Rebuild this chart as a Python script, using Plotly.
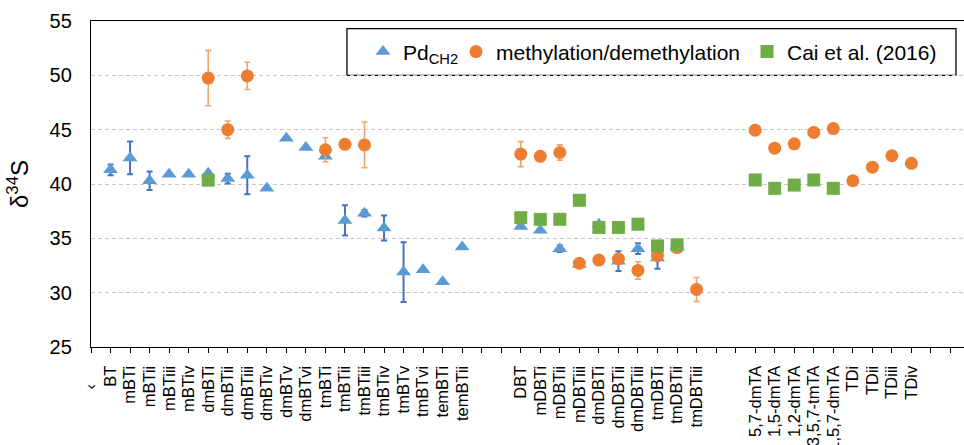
import plotly.graph_objects as go

NB = "\u00a0"

# Category axis (empty strings leave gaps between compound families)
categories = (
    ["\u2039" + NB * 4,
     "BT", "mBTi", "mBTii", "mBTiii", "mBTiv", "dmBTi", "dmBTii", "dmBTiii",
     "dmBTiv", "dmBTv", "dmBTvi", "tmBTi", "tmBTii", "tmBTiii", "tmBTiv",
     "tmBTv", "tmBTvi", "temBTi", "temBTii",
     "", "",
     "DBT", "mDBTi", "mDBTii", "mDBTiii", "dmDBTi", "dmDBTii", "dmDBTiii",
     "tmDBTi", "tmDBTii", "tmDBTiii",
     "", "",
     "5,7-dmTA", "1,5-dmTA", "1,2-dmTA", "3,5,7-tmTA", "1,5,7-dmTA",
     "TDi", "TDii", "TDiii", "TDiv",
     "", ""]
)

# Pd_CH2 series
pd_names = ["BT", "mBTi", "mBTii", "mBTiii", "mBTiv", "dmBTi", "dmBTii", "dmBTiii",
            "dmBTiv", "dmBTv", "dmBTvi", "tmBTi", "tmBTii", "tmBTiii", "tmBTiv",
            "tmBTv", "tmBTvi", "temBTi", "temBTii",
            "DBT", "mDBTi", "mDBTii", "mDBTiii", "dmDBTi", "dmDBTii", "dmDBTiii",
            "tmDBTi", "tmDBTii"]
pd_values = [41.3, 42.4, 40.3, 40.9, 40.9, 41.0, 40.5, 40.8,
             39.6, 44.2, 43.35, 42.55, 36.65, 37.3, 35.95,
             31.9, 32.1, 31.0, 34.2,
             36.1, 35.75, 34.05, 32.6, 36.3, 32.9, 34.05,
             33.2, 34.3]
pd_err = [0.5, 1.5, 0.85, 0, 0, 0, 0.45, 1.75,
          0, 0, 0, 0, 1.4, 0.3, 1.15,
          2.75, 0, 0, 0,
          0, 0, 0.3, 0, 0, 0.9, 0.5,
          1.0, 0]

# methylation/demethylation series
md_names = ["dmBTi", "dmBTii", "dmBTiii", "tmBTi", "tmBTii", "tmBTiii",
            "DBT", "mDBTi", "mDBTii", "mDBTiii", "dmDBTi", "dmDBTii", "dmDBTiii",
            "tmDBTi", "tmDBTii", "tmDBTiii",
            "5,7-dmTA", "1,5-dmTA", "1,2-dmTA", "3,5,7-tmTA", "1,5,7-dmTA",
            "TDi", "TDii", "TDiii", "TDiv"]
md_values = [49.75, 45.0, 49.95, 43.15, 43.65, 43.6,
             42.75, 42.55, 42.9, 32.7, 33.0, 33.1, 32.05,
             33.4, 34.15, 30.3,
             44.95, 43.3, 43.7, 44.75, 45.1,
             40.3, 41.55, 42.6, 41.9]
md_err = [2.55, 0.8, 1.25, 1.1, 0, 2.1,
          1.15, 0, 0.7, 0, 0, 0, 0.8,
          0, 0, 1.1,
          0, 0, 0, 0, 0,
          0, 0, 0, 0]

# Cai et al. (2016) series
cai_names = ["dmBTi", "DBT", "mDBTi", "mDBTii", "mDBTiii", "dmDBTi", "dmDBTii",
             "dmDBTiii", "tmDBTi", "tmDBTii",
             "5,7-dmTA", "1,5-dmTA", "1,2-dmTA", "3,5,7-tmTA", "1,5,7-dmTA"]
cai_values = [40.35, 36.9, 36.75, 36.75, 38.5, 36.0, 36.0,
              36.3, 34.3, 34.4,
              40.37, 39.6, 39.9, 40.37, 39.6]


def positions(names):
    return [categories.index(n) for n in names]


labelled = [i for i, c in enumerate(categories) if c]

FONT = "Liberation Sans, Arial, sans-serif"

fig = go.Figure()

fig.add_trace(go.Scatter(
    x=positions(pd_names), y=pd_values, mode="markers",
    name="Pd<sub>CH2</sub>",
    marker=dict(symbol="triangle-up", size=13, color="#5B9BD5", line=dict(width=0)),
    error_y=dict(type="data", array=pd_err, color="#4472C4", thickness=2, width=3),
    legendwidth=48,
))
fig.add_trace(go.Scatter(
    x=positions(md_names), y=md_values, mode="markers",
    name="methylation/demethylation",
    marker=dict(symbol="circle", size=13, color="#ED7D31", line=dict(width=0)),
    error_y=dict(type="data", array=md_err, color="#F3A46C", thickness=1.6, width=3),
    legendwidth=246,
))
fig.add_trace(go.Scatter(
    x=positions(cai_names), y=cai_values, mode="markers",
    name="Cai et al. (2016)",
    marker=dict(symbol="square", size=13, color="#70AD47", line=dict(width=0)),
    legendwidth=150,
))

# legend frame
fig.add_shape(type="rect", xref="paper", yref="paper",
              x0=0.2932, x1=0.9908, y0=0.8334, y1=0.9764,
              line=dict(color="black", width=1.3), fillcolor="white", layer="below")

fig.update_layout(
    width=964, height=445,
    margin=dict(l=91, r=0, t=21, b=98),
    paper_bgcolor="white", plot_bgcolor="white",
    font=dict(family=FONT, color="black"),
    showlegend=True,
    legend=dict(
        orientation="h", x=0.3116, xanchor="left", y=0.905, yanchor="middle",
        font=dict(family=FONT, size=21, color="black"),
        bgcolor="rgba(0,0,0,0)", borderwidth=0,
    ),
    xaxis=dict(
        range=[0, 44.69], tickmode="array", automargin=False,
        tickvals=labelled, ticktext=[categories[i] for i in labelled],
        tickangle=-90, tickfont=dict(family=FONT, size=16.5, color="black"),
        ticks="outside", ticklen=5, tickcolor="black", tickwidth=1.2,
        minor=dict(tickmode="linear", tick0=0, dtick=1, ticks="outside",
                   ticklen=5, tickcolor="black", tickwidth=1.2, showgrid=False),
        showline=True, linecolor="black", linewidth=1.3, mirror=True,
        showgrid=False, zeroline=False, ticklabelstandoff=6,
    ),
    yaxis=dict(
        range=[25, 55], dtick=5, tick0=25, automargin=False,
        tickfont=dict(family=FONT, size=20, color="black"),
        ticks="", showline=True, linecolor="black", linewidth=1.3,
        showgrid=True, gridcolor="#C8C8C8", gridwidth=1.2, griddash="4px,3px",
        zeroline=False, ticklabelstandoff=14,
        title=dict(text="\u03b4<sup>34</sup>S", font=dict(family=FONT, size=24, color="black"),
                   standoff=14),
    ),
)

fig.write_html("out.html")
